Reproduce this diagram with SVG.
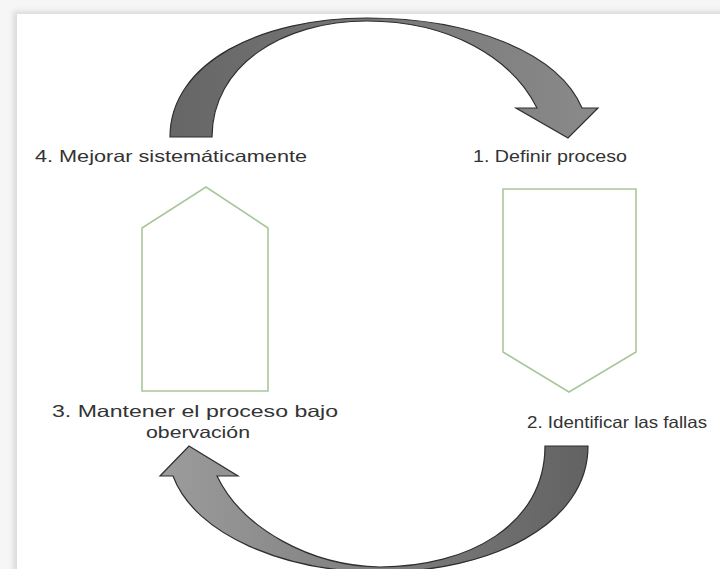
<svg xmlns="http://www.w3.org/2000/svg" width="720" height="569" viewBox="0 0 720 569">
<style>
.lbl{font-family:"Liberation Sans",Arial,sans-serif;font-size:16.5px;fill:#333333}
.pent{fill:#ffffff;stroke:#a9c79b;stroke-width:1.6}
.arr{stroke:#2e2e2e;stroke-width:1.2;stroke-linejoin:miter}
</style>
<defs>
<linearGradient id="gTop" x1="0" y1="0" x2="1" y2="0">
<stop offset="0" stop-color="#666666"/><stop offset="1" stop-color="#8a8a8a"/>
</linearGradient>
<linearGradient id="gBot" x1="0" y1="0" x2="1" y2="0">
<stop offset="0" stop-color="#9c9c9c"/><stop offset="1" stop-color="#626262"/>
</linearGradient>
<filter id="soft" x="-5%" y="-5%" width="110%" height="110%"><feGaussianBlur stdDeviation="2.5"/></filter>
</defs>
<rect x="0" y="0" width="720" height="569" fill="#f6f6f6"/>
<rect x="13" y="11" width="720" height="570" fill="#dcdcdc" filter="url(#soft)"/>
<rect x="17" y="14" width="703" height="555" fill="#ffffff"/>

<g id="connectors">
<path class="arr" fill="url(#gTop)" d="M170,137 C170,62 262,18 367,18 C470,18 558,52 582,108 L598,108 L568,138 L516,108 L537,108 C512,58 450,21 367,21 C282,21 212,66 212,137 Z"/>
<path class="arr" fill="url(#gBot)" d="M545,446 L588,446 C588,525 490,572 380,572 C285,572 195,535 173,476 L160,476 L189,446 L238,476 L217,476 C242,528 310,566 380,567 C468,567 545,525 545,446 Z"/>
</g>

<g id="node4">
<text class="lbl" x="35" y="162" textLength="272" lengthAdjust="spacingAndGlyphs">4. Mejorar sistemáticamente</text>
</g>
<g id="node1">
<text class="lbl" x="473" y="162" textLength="154" lengthAdjust="spacingAndGlyphs">1. Definir proceso</text>
</g>
<g id="shapeUp">
<polygon class="pent" points="142,228 206,187 268,228 268,391 142,391"/>
</g>
<g id="shapeDown">
<polygon class="pent" points="503,189 636,189 636,352 569,392 503,352"/>
</g>
<g id="node3">
<text class="lbl" x="52" y="417" textLength="286" lengthAdjust="spacingAndGlyphs">3. Mantener el proceso bajo</text>
<text class="lbl" x="146" y="438" textLength="104" lengthAdjust="spacingAndGlyphs">obervación</text>
</g>
<g id="node2">
<text class="lbl" x="527" y="428" textLength="180" lengthAdjust="spacingAndGlyphs">2. Identificar las fallas</text>
</g>
</svg>
